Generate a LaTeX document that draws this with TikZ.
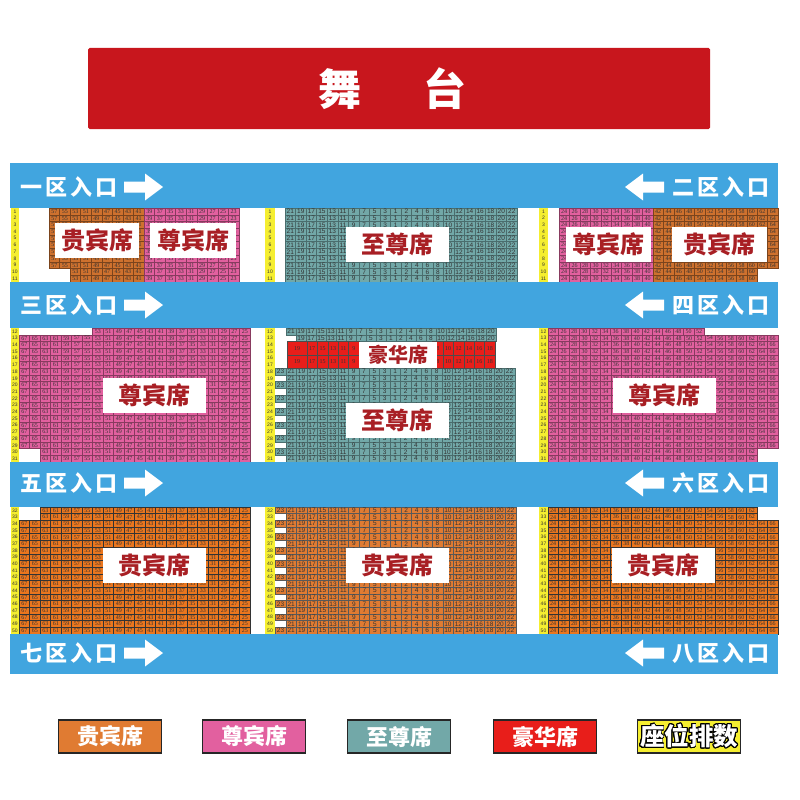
\documentclass[tikz,border=0pt]{standalone}
\usepackage{fontspec}
\usepackage{xcolor}
\usepackage{tikz}
\usepackage{contour}
\newfontfamily\cjk{Noto Sans CJK SC}
\newfontfamily\cjkwide[LetterSpace=14]{Noto Sans CJK SC}
\newfontfamily\numsans{Liberation Sans}
\newfontfamily\numserif{Liberation Serif}
\definecolor{stagered}{HTML}{C8161D}
\definecolor{bandblue}{HTML}{41A5DF}
\definecolor{seatyellow}{HTML}{F5EE30}
\definecolor{labelred}{HTML}{A81F24}
\definecolor{guibin}{HTML}{E07B32}
\definecolor{lowgoldfill}{HTML}{EA761E}
\definecolor{zunbin}{HTML}{E2609F}
\definecolor{zhizun}{HTML}{72A8A8}
\definecolor{haohua}{HTML}{E81E1A}
% 行的上边位置
\pgfmathdeclarefunction{rowtop}{1}{%
	\pgfmathparse{(#1<=11)*(208+(#1-1)*6.73)+and(#1>11,#1<=31)*(328+(#1-12)*6.7)+(#1>31)*(507+(#1-32)*6.68)}}
% 样式 行起 行止 左端 列宽 列表
\newcommand{\seatblock}[6]{%
	\foreach \rownum in {#2,...,#3}{
		\pgfmathsetmacro{\rowy}{rowtop(\rownum)}
		\foreach \n [count=\k from 0] in #6 {
			\pgfmathsetmacro{\colx}{#4+\k*#5}
			\draw[#1] (\colx,\rowy) rectangle ++(#5,6.7) node[midway,seatnum] {\n};
		}
	}}
\newcommand{\entryarrow}[3]{%
	\fill[white,shift={(#1,#2)},xscale=#3]
	(0,-5.5)--(21,-5.5)--(21,-13.5)--(39,0)--(21,13.5)--(21,5.5)--(0,5.5)--cycle;}
\begin{document}
\begin{tikzpicture}[x=1pt,y=-1pt,
	seatnum/.style={inner sep=0pt,text=black!80,font=\fontsize{6}{6}\numserif},
	topgold/.style={fill=guibin!92!black,draw=guibin!55!black,line width=0.4pt},
	lowgold/.style={fill=lowgoldfill,draw=black!80,line width=0.5pt},
	midgold/.style={fill=guibin,draw=black!65,line width=0.5pt,seatnum/.append style={font=\fontsize{6.5}{6.5}\numsans}},
	pinkseat/.style={fill=zunbin,draw=zunbin!60!black,line width=0.4pt},
	tealseat/.style={fill=zhizun,draw=zhizun!65!black,line width=0.4pt,seatnum/.append style={font=\fontsize{6.5}{6.5}\numsans}},
	redseat/.style={fill=haohua,draw=black!70,line width=0.6pt},
	stagebox/.style={fill=stagered,rounded corners=1.5pt,minimum width=622,minimum height=81,inner sep=0pt,text=white,font=\fontsize{43}{43}\cjk\bfseries},
	seatlabel/.style={fill=white,inner sep=0pt,minimum width=103,minimum height=35,text=labelred,font=\fontsize{24}{24}\cjk\bfseries},
	entrytext/.style={inner sep=0pt,text=white,font=\fontsize{22}{22}\cjkwide\bfseries},
	legendbox/.style={draw=black!85,line width=1.2pt,minimum width=103,minimum height=33,inner sep=0pt,text=white,font=\fontsize{22}{22}\cjk\bfseries},
	]
	\useasboundingbox (0,0) rectangle (800,800);
	\def\leftall{67,65,...,25}
	\def\leftcut{63,61,...,25}
	\def\midlist{21,19,...,1,2,4,...,22}
	
	% 舞台
	\node[stagebox] (stage) at (399,88.5) {舞\hspace{62pt}台\kern13pt};
	
	% 左上
	\seatblock{topgold}{1}{9}{49}{10.55}{{57,55,...,41}}
	\seatblock{topgold}{10}{11}{70.1}{10.55}{{53,51,...,41}}
	\seatblock{pinkseat}{1}{11}{144}{10.55}{{39,37,...,23}}
	% 中上
	\seatblock{tealseat}{1}{11}{285}{10.55}{\midlist}
	% 右上
	\seatblock{pinkseat}{1}{11}{559}{10.43}{{24,26,...,40}}
	\seatblock{topgold}{1}{9}{652.9}{10.43}{{42,44,...,64}}
	\seatblock{topgold}{10}{11}{652.9}{10.43}{{42,44,...,60}}
	
	% 左中
	\seatblock{pinkseat}{12}{12}{92.5}{10.5}{{53,51,...,25}}
	\seatblock{pinkseat}{13}{29}{19}{10.5}{\leftall}
	\seatblock{pinkseat}{30}{31}{40}{10.5}{\leftcut}
	% 中间
	\seatblock{tealseat}{12}{12}{286}{10}{{21,19,...,1,2,4,...,20}}
	\seatblock{tealseat}{13}{13}{296}{10}{{19,17,...,1,2,4,...,20}}
	\seatblock{tealseat}{18}{31}{286}{10.4}{\midlist}
	\foreach \r in {18,20,...,30}{
		\seatblock{tealseat}{\r}{\r}{275}{11}{{23}}
	}
	% 豪华席
	\foreach \ry in {341.4,354.8}{
		\foreach \cellx/\cellw/\cellnum in {287/20/19,307/10.4/17,317.4/10.4/15,327.8/10.4/13,338.2/10.4/11,348.6/10.4/9,432.5/10.5/8,443/10.4/10,453.4/10.4/12,463.8/10.4/14,474.2/10.4/16,484.6/10.4/18}{
			\draw[redseat] (\cellx,\ry) rectangle ++(\cellw,13.4) node[midway,seatnum,text=black!80] {\cellnum};
		}
	}
	% 右中
	\seatblock{pinkseat}{12}{12}{548}{10.42}{{24,26,...,52}}
	\seatblock{pinkseat}{13}{29}{548}{10.45}{{24,26,...,66}}
	\seatblock{pinkseat}{30}{31}{548}{10.45}{{24,26,...,62}}
	
	% 下
	\seatblock{lowgold}{32}{33}{40}{10.5}{\leftcut}
	\seatblock{lowgold}{34}{50}{19}{10.5}{\leftall}
	\seatblock{midgold}{32}{50}{286}{10.45}{\midlist}
	\foreach \r in {32,34,...,50}{
		\seatblock{midgold}{\r}{\r}{275}{11}{{23}}
	}
	\seatblock{lowgold}{32}{33}{548}{10.45}{{24,26,...,62}}
	\seatblock{lowgold}{34}{50}{548}{10.45}{{24,26,...,66}}
	
	% 座位排数
	\foreach \colx/\colw in {11/8,265/10,539/9}{
		\foreach \r in {1,...,50}{
			\pgfmathsetmacro{\rowy}{rowtop(\r)}
			\fill[seatyellow] (\colx,\rowy) rectangle ++(\colw,6.75) node[midway,seatnum,font=\fontsize{5}{5}\numsans] {\r};
		}
	}
	
	% 通道
	\fill[bandblue] (10,163) rectangle (778,208);
	\fill[bandblue] (10,282) rectangle (778,328);
	\fill[bandblue] (10,462) rectangle (778,507);
	\fill[bandblue] (10,634) rectangle (778,674);
	
	% 入口
	\node[entrytext,anchor=west] (entryA) at (20,187) {一区入口};
	\node[entrytext,anchor=west] (entryC) at (20,305) {三区入口};
	\node[entrytext,anchor=west] (entryE) at (20,483) {五区入口};
	\node[entrytext,anchor=west] (entryG) at (20,653) {七区入口};
	\node[entrytext,anchor=east] (entryB) at (770,187) {二区入口};
	\node[entrytext,anchor=east] (entryD) at (770,305) {四区入口};
	\node[entrytext,anchor=east] (entryF) at (770,483) {六区入口};
	\node[entrytext,anchor=east] (entryH) at (770,653) {八区入口};
	\foreach \arrowy in {187,305,483,653}{
		\entryarrow{124}{\arrowy}{1}
		\entryarrow{664}{\arrowy}{-1}
	}
	
	% 白底标签
	\node[seatlabel,minimum width=84] (labelA) at (97,240) {贵宾席};
	\node[seatlabel,minimum width=86] (labelB) at (193,240) {尊宾席};
	\node[seatlabel] (labelC) at (397.5,244.5) {至尊席};
	\node[seatlabel,minimum width=85] (labelD) at (608.5,244.5) {尊宾席};
	\node[seatlabel,minimum width=95] (labelE) at (719.5,244.5) {贵宾席};
	\node[seatlabel] (labelF) at (154,395) {尊宾席};
	\node[seatlabel,minimum width=78,minimum height=26.8,font=\fontsize{20}{20}\cjk\bfseries] (labelG) at (398,355) {豪华席};
	\node[seatlabel] (labelH) at (397.5,420) {至尊席};
	\node[seatlabel] (labelI) at (664.5,395) {尊宾席};
	\node[seatlabel] (labelJ) at (154.5,565.5) {贵宾席};
	\node[seatlabel] (labelK) at (397.5,565.5) {贵宾席};
	\node[seatlabel] (labelL) at (663.5,565.5) {贵宾席};
	
	% 图例
	\node[legendbox,fill=guibin] (legendA) at (110,736.5) {贵宾席};
	\node[legendbox,fill=zunbin] (legendB) at (254,736.5) {尊宾席};
	\node[legendbox,fill=zhizun] (legendC) at (399,736.5) {至尊席};
	\node[legendbox,fill=haohua] (legendD) at (545,736.5) {豪华席};
	\contournumber{24}\contourlength{0.9pt}
	\node[legendbox,fill=seatyellow,font=\fontsize{24.5}{24.5}\cjk\bfseries] (legendE) at (689,736.5) {\contour{black}{座位排数}};
\end{tikzpicture}
\end{document}
